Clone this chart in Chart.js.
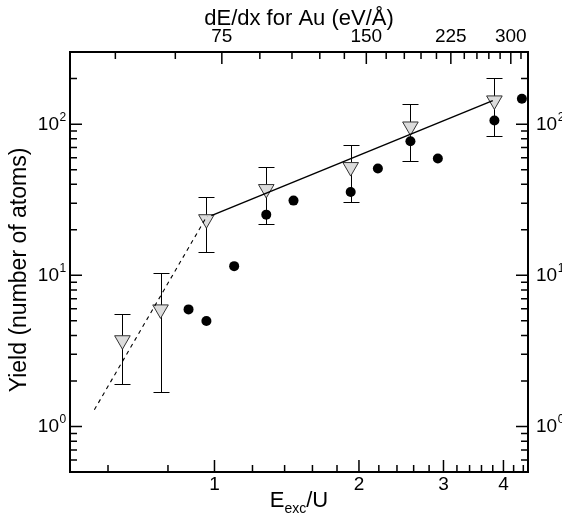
<!DOCTYPE html>
<html><head><meta charset="utf-8">
<script src="https://cdn.jsdelivr.net/npm/chart.js@4/dist/chart.umd.min.js"></script>
<style>html,body{margin:0;padding:0;background:#fff}#wrap{width:562px;height:516px}</style>
</head><body><div id="wrap"><canvas id="c" width="562" height="516"></canvas></div>
<script>
// Triangles (with error bars)
const triX = [0.643, 0.772, 0.962, 1.282, 1.922, 2.56, 3.83];
const triY = [3.72, 5.95, 23.5, 37.2, 52.0, 96.5, 143.5];
const triErrHigh = [5.58, 10.3, 32.9, 51.9, 72.6, 135, 200.8];
const triErrLow = [1.91, 1.68, 14.3, 22.0, 30.6, 56.9, 83.6];
// Filled circles
const dotX = [0.883, 0.962, 1.099, 1.282, 1.461, 1.922, 2.19, 2.56, 2.92, 3.83, 4.37];
const dotY = [5.95, 4.98, 11.5, 25.2, 31.2, 35.6, 50.9, 77.1, 59.3, 105.7, 147];
// Fit lines
const fitSolidX = [0.985, 3.8];
const fitSolidY = [24.8, 143];
const fitDashX = [0.562, 0.965];
const fitDashY = [1.29, 24.7];
// Tick values / labels
const xMajor = [1, 2, 3, 4];
const xMinor = [0.6, 0.8, 1.2, 1.4, 1.6, 1.8, 2.2, 2.4, 2.6, 2.8, 3.2, 3.4, 3.6, 3.8, 4.2, 4.4];
const yMajor = [1, 10, 100];
const yMajorExp = ['0', '1', '2'];
const yMinor = [0.6, 0.7, 0.8, 0.9, 2, 3, 4, 5, 6, 7, 8, 9, 20, 30, 40, 50, 60, 70, 80, 90, 200];
const topMajor = [75, 150, 225, 300];
const topMinor = [45, 60, 90, 105, 120, 135, 165, 180, 195, 210, 240, 255, 270, 285, 315];
const EDX_PER_U = 72.4;

const FONT = '"Liberation Sans", Arial, Helvetica, sans-serif';

function toPts(xs, ys) { return xs.map((v, i) => ({x: v, y: ys[i]})); }

const customPlugin = {
  id: 'custom',
  beforeDatasetsDraw(chart) {
    const {ctx, scales: {x, y}} = chart;
    ctx.save();
    ctx.strokeStyle = '#000';
    ctx.lineWidth = 1;
    triX.forEach((v, i) => {
      const px = Math.round(x.getPixelForValue(v)) + 0.5;
      const y1 = Math.round(y.getPixelForValue(triErrHigh[i])) + 0.5;
      const y2 = Math.round(y.getPixelForValue(triErrLow[i])) + 0.5;
      ctx.beginPath();
      ctx.moveTo(px, y1); ctx.lineTo(px, y2);
      ctx.moveTo(px - 8, y1); ctx.lineTo(px + 8, y1);
      ctx.moveTo(px - 8, y2); ctx.lineTo(px + 8, y2);
      ctx.stroke();
    });
    ctx.restore();
  },
  afterDraw(chart) {
    const {ctx, chartArea: a, scales: {x, x2, y, y2}} = chart;
    ctx.save();
    ctx.strokeStyle = '#000';
    ctx.fillStyle = '#000';
    // ticks
    ctx.lineWidth = 1.5;
    const MAJ = 12, MIN = 7;
    ctx.beginPath();
    const hTicks = (scale, vals, len) => vals.forEach(v => {
      const p = scale.getPixelForValue(v);
      ctx.moveTo(p, a.bottom); ctx.lineTo(p, a.bottom - len);
    });
    const tTicks = (scale, vals, len) => vals.forEach(v => {
      const p = scale.getPixelForValue(v);
      ctx.moveTo(p, a.top); ctx.lineTo(p, a.top + len);
    });
    const lTicks = (scale, vals, len) => vals.forEach(v => {
      const p = scale.getPixelForValue(v);
      ctx.moveTo(a.left, p); ctx.lineTo(a.left + len, p);
    });
    const rTicks = (scale, vals, len) => vals.forEach(v => {
      const p = scale.getPixelForValue(v);
      ctx.moveTo(a.right, p); ctx.lineTo(a.right - len, p);
    });
    hTicks(x, xMajor, MAJ); hTicks(x, xMinor, MIN);
    tTicks(x2, topMajor, MAJ); tTicks(x2, topMinor, MIN);
    lTicks(y, yMajor, MAJ); lTicks(y, yMinor, MIN);
    rTicks(y2, yMajor, MAJ); rTicks(y2, yMinor, MIN);
    ctx.stroke();
    // frame
    ctx.lineWidth = 2;
    ctx.strokeRect(a.left, a.top, a.right - a.left, a.bottom - a.top);

    // tick labels
    ctx.font = '19px ' + FONT;
    ctx.textBaseline = 'alphabetic';
    ctx.textAlign = 'center';
    xMajor.forEach(v => ctx.fillText(String(v), x.getPixelForValue(v), 490));
    topMajor.forEach(v => ctx.fillText(String(v), x2.getPixelForValue(v), 42));
    yMajor.forEach((v, i) => {
      const p = y.getPixelForValue(v);
      ctx.font = '19px ' + FONT; ctx.textAlign = 'right';
      ctx.fillText('10', 59, p + 6);
      ctx.font = '12px ' + FONT; ctx.textAlign = 'left';
      ctx.fillText(yMajorExp[i], 59.5, p - 3);
      const q = y2.getPixelForValue(v);
      ctx.font = '19px ' + FONT; ctx.textAlign = 'left';
      ctx.fillText('10', 536, q + 6);
      const w = ctx.measureText('10').width;
      ctx.font = '12px ' + FONT;
      ctx.fillText(yMajorExp[i], 536 + w + 0.5, q - 3);
    });

    // titles
    const cx = (a.left + a.right) / 2;
    ctx.font = '22px ' + FONT; ctx.textAlign = 'center';
    ctx.fillText('dE/dx for Au (eV/\u00C5)', cx, 25);
    // bottom title E_exc/U
    ctx.textAlign = 'left';
    ctx.font = '22px ' + FONT;
    const wE = ctx.measureText('E').width;
    const wU = ctx.measureText('/U').width;
    ctx.font = '14px ' + FONT;
    const wS = ctx.measureText('exc').width;
    let sx = cx - (wE + wS + wU) / 2;
    ctx.font = '22px ' + FONT;
    ctx.fillText('E', sx, 507);
    ctx.font = '14px ' + FONT;
    ctx.fillText('exc', sx + wE, 513);
    ctx.font = '22px ' + FONT;
    ctx.fillText('/U', sx + wE + wS, 507);
    // left title
    ctx.save();
    ctx.translate(26, 270);
    ctx.rotate(-Math.PI / 2);
    ctx.textAlign = 'center';
    ctx.font = '23px ' + FONT;
    ctx.fillText('Yield (number of atoms)', 0, 0);
    ctx.restore();
    ctx.restore();
  }
};

const hidden = {ticks: {display: false}, grid: {display: false}, border: {display: false}};

new Chart(document.getElementById('c'), {
  type: 'scatter',
  data: {
    datasets: [
      {type: 'line', data: toPts(fitSolidX, fitSolidY), borderColor: '#000', borderWidth: 1.5,
       pointRadius: 0, fill: false, tension: 0},
      {type: 'line', data: toPts(fitDashX, fitDashY), borderColor: '#000', borderWidth: 1.1,
       borderDash: [4, 4], pointRadius: 0, fill: false, tension: 0},
      {data: toPts(triX, triY), pointStyle: 'triangle', rotation: 180, pointRadius: 9,
       backgroundColor: '#dcdcdc', borderColor: '#333', borderWidth: 1},
      {data: toPts(dotX, dotY), pointStyle: 'circle', pointRadius: 5,
       backgroundColor: '#000', borderColor: '#000', borderWidth: 0}
    ]
  },
  options: {
    responsive: false,
    animation: false,
    layout: {padding: 0},
    plugins: {legend: {display: false}, tooltip: {enabled: false}},
    scales: {
      x: Object.assign({type: 'logarithmic', position: 'bottom', min: 0.5, max: 4.5,
        afterFit(s) { s.height = 44; }}, hidden),
      x2: Object.assign({type: 'logarithmic', position: 'top', min: 0.5 * EDX_PER_U, max: 4.5 * EDX_PER_U,
        afterFit(s) { s.height = 52; }}, hidden),
      y: Object.assign({type: 'logarithmic', position: 'left', min: 0.5, max: 300,
        afterFit(s) { s.width = 70; }}, hidden),
      y2: Object.assign({type: 'logarithmic', position: 'right', min: 0.5, max: 300,
        afterFit(s) { s.width = 34; }}, hidden)
    }
  },
  plugins: [customPlugin]
});
</script>
</body></html>
